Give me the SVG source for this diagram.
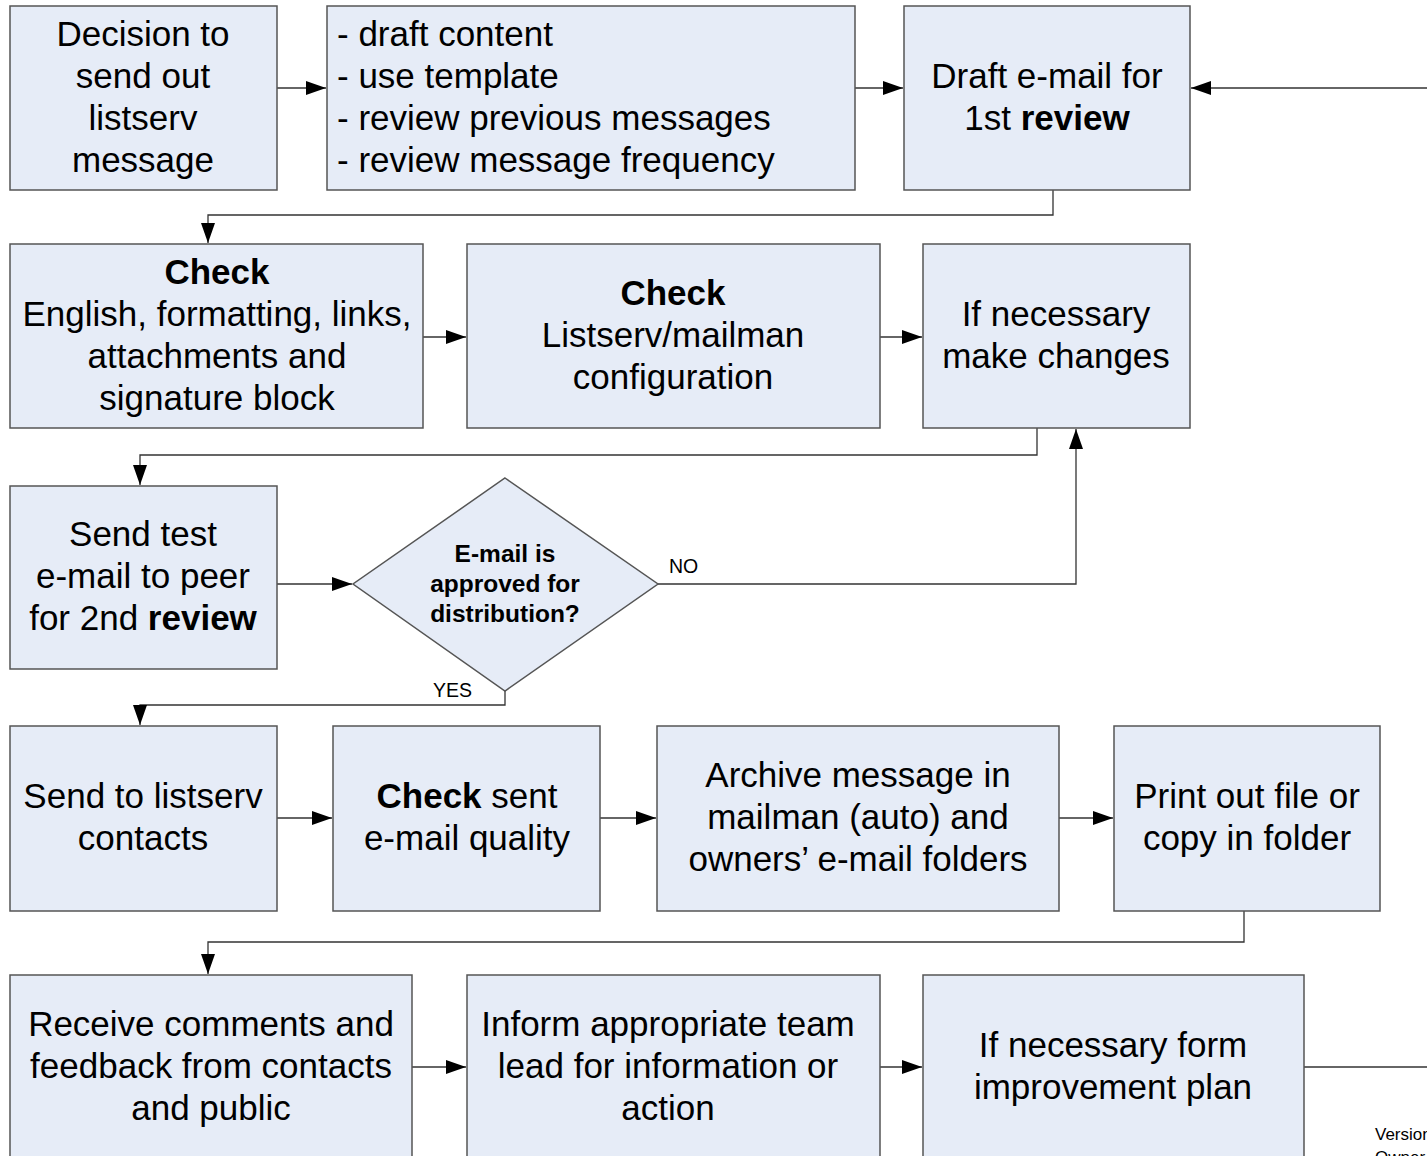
<svg xmlns="http://www.w3.org/2000/svg" width="1427" height="1156" viewBox="0 0 1427 1156">
<style>
.box{fill:#e6ecf7;stroke:#555555;stroke-width:1.5}
.t{font-family:"Liberation Sans",Arial,sans-serif;font-size:35px;fill:#000;text-anchor:middle}
.tl{font-family:"Liberation Sans",Arial,sans-serif;font-size:35px;fill:#000}
.b{font-weight:bold}
.d{font-family:"Liberation Sans",Arial,sans-serif;font-size:24.5px;font-weight:bold;fill:#000;text-anchor:middle}
.s{font-family:"Liberation Sans",Arial,sans-serif;font-size:19.5px;fill:#000}
.v{font-family:"Liberation Sans",Arial,sans-serif;font-size:17px;fill:#000}
.c{fill:none;stroke:#333333;stroke-width:1.3}
</style>
<defs>
<marker id="ah" markerWidth="20" markerHeight="14" refX="20" refY="7" orient="auto" markerUnits="userSpaceOnUse">
<path d="M0,0 L20,7 L0,14 Z" fill="#000"/>
</marker>
</defs>
<rect width="1427" height="1156" fill="#fff"/>
<g id="connectors">
<path class="c" d="M277,88 H326" marker-end="url(#ah)"/>
<path class="c" d="M855,88 H903" marker-end="url(#ah)"/>
<path class="c" d="M1427,88 H1191" marker-end="url(#ah)"/>
<path class="c" d="M1053,190 V215 H208 V243" marker-end="url(#ah)"/>
<path class="c" d="M423,337 H466" marker-end="url(#ah)"/>
<path class="c" d="M880,337 H922" marker-end="url(#ah)"/>
<path class="c" d="M1037,428 V455 H140 V485" marker-end="url(#ah)"/>
<path class="c" d="M277,584 H352" marker-end="url(#ah)"/>
<path class="c" d="M658,584 H1076 V429" marker-end="url(#ah)"/>
<path class="c" d="M505,691 V705 H140 V725" marker-end="url(#ah)"/>
<path class="c" d="M277,818 H332" marker-end="url(#ah)"/>
<path class="c" d="M600,818 H656" marker-end="url(#ah)"/>
<path class="c" d="M1059,818 H1113" marker-end="url(#ah)"/>
<path class="c" d="M1244,911 V942 H208 V974" marker-end="url(#ah)"/>
<path class="c" d="M412,1067 H466" marker-end="url(#ah)"/>
<path class="c" d="M880,1067 H922" marker-end="url(#ah)"/>
<path class="c" d="M1304,1067 H1427"/>
<text class="s" x="669" y="573">NO</text>
<text class="s" x="433" y="697">YES</text>
</g>
<g id="n1"><rect class="box" x="10" y="6" width="267" height="184"/>
<text class="t" x="143" y="46">Decision to</text><text class="t" x="143" y="88">send out</text><text class="t" x="143" y="130">listserv</text><text class="t" x="143" y="172">message</text></g>
<g id="n2"><rect class="box" x="327" y="6" width="528" height="184"/>
<text class="tl" x="337" y="46">- draft content</text><text class="tl" x="337" y="88">- use template</text><text class="tl" x="337" y="130">- review previous messages</text><text class="tl" x="337" y="172">- review message frequency</text></g>
<g id="n3"><rect class="box" x="904" y="6" width="286" height="184"/>
<text class="t" x="1047" y="88">Draft e-mail for</text><text class="t" x="1047" y="130">1st <tspan class="b">review</tspan></text></g>
<g id="n4"><rect class="box" x="10" y="244" width="413" height="184"/>
<text class="t b" x="217" y="284">Check</text><text class="t" x="217" y="326">English, formatting, links,</text><text class="t" x="217" y="368">attachments and</text><text class="t" x="217" y="410">signature block</text></g>
<g id="n5"><rect class="box" x="467" y="244" width="413" height="184"/>
<text class="t b" x="673" y="305">Check</text><text class="t" x="673" y="347">Listserv/mailman</text><text class="t" x="673" y="389">configuration</text></g>
<g id="n6"><rect class="box" x="923" y="244" width="267" height="184"/>
<text class="t" x="1056" y="326">If necessary</text><text class="t" x="1056" y="368">make changes</text></g>
<g id="n7"><rect class="box" x="10" y="486" width="267" height="183"/>
<text class="t" x="143" y="546">Send test</text><text class="t" x="143" y="588">e-mail to peer</text><text class="t" x="143" y="630">for 2nd <tspan class="b">review</tspan></text></g>
<g id="n8"><path class="box" d="M505,478 L658,584 L505,691 L353,584 Z"/>
<text class="d" x="505" y="562">E-mail is</text><text class="d" x="505" y="592">approved for</text><text class="d" x="505" y="622">distribution?</text></g>
<g id="n9"><rect class="box" x="10" y="726" width="267" height="185"/>
<text class="t" x="143" y="808">Send to listserv</text><text class="t" x="143" y="850">contacts</text></g>
<g id="n10"><rect class="box" x="333" y="726" width="267" height="185"/>
<text class="t" x="467" y="808"><tspan class="b">Check</tspan> sent</text><text class="t" x="467" y="850">e-mail quality</text></g>
<g id="n11"><rect class="box" x="657" y="726" width="402" height="185"/>
<text class="t" x="858" y="787">Archive message in</text><text class="t" x="858" y="829">mailman (auto) and</text><text class="t" x="858" y="871">owners’ e-mail folders</text></g>
<g id="n12"><rect class="box" x="1114" y="726" width="266" height="185"/>
<text class="t" x="1247" y="808">Print out file or</text><text class="t" x="1247" y="850">copy in folder</text></g>
<g id="n13"><rect class="box" x="10" y="975" width="402" height="200"/>
<text class="t" x="211" y="1036">Receive comments and</text><text class="t" x="211" y="1078">feedback from contacts</text><text class="t" x="211" y="1120">and public</text></g>
<g id="n14"><rect class="box" x="467" y="975" width="413" height="200"/>
<text class="t" x="668" y="1036">Inform appropriate team</text><text class="t" x="668" y="1078">lead for information or</text><text class="t" x="668" y="1120">action</text></g>
<g id="n15"><rect class="box" x="923" y="975" width="381" height="200"/>
<text class="t" x="1113" y="1057">If necessary form</text><text class="t" x="1113" y="1099">improvement plan</text></g>
<g id="footer"><text class="v" x="1375" y="1140">Version</text><text class="v" x="1375" y="1163">Owner</text></g>
</svg>
